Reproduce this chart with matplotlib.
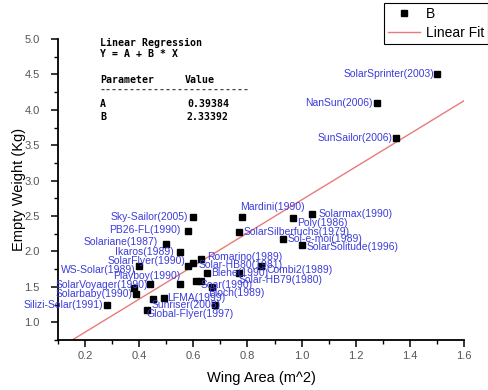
import matplotlib
matplotlib.use('Agg')
import matplotlib.pyplot as plt
from matplotlib.ticker import MultipleLocator
from matplotlib.lines import Line2D
import numpy as np

plt.rcParams['font.family'] = ['Liberation Sans', 'DejaVu Sans']

# wing area (m^2), empty weight (kg) and aircraft names
names = ['Sky-Sailor(2005)', 'PB26-FL(1990)', 'Solariane(1987)', 'Ikaros(1989)',
         'Romarino(1989)', 'Solar-HB80(1981)', 'SolarFlyer(1990)', 'WS-Solar(1989)',
         'Blehe(1990)', 'Solar-HB79(1980)', 'Combi2(1989)', 'Bloch(1989)', '',
         'Playboy(1990)', 'SolarVoyager(1990)', '', 'Solarbaby(1990)', 'LFMA(1999)', '',
         'Soar(1990)', 'Sunriser(2008)', 'Global-Flyer(1997)', 'Silizi-Solar(1991)',
         'Mardini(1990)', 'Poly(1986)', 'Solarmax(1990)', 'SolarSilberfuchs(1979)',
         'Sol-e-moi(1989)', 'SolarSolitude(1996)', 'SolarSprinter(2003)',
         'NanSun(2006)', 'SunSailor(2006)']
wing_area = [0.60, 0.58, 0.50, 0.55, 0.63, 0.60, 0.58, 0.40, 0.65, 0.77, 0.85, 0.63,
             0.61, 0.55, 0.44, 0.38, 0.39, 0.49, 0.45, 0.67, 0.68, 0.43, 0.28, 0.78,
             0.97, 1.04, 0.77, 0.93, 1.00, 1.50, 1.28, 1.35]
weight = [2.49, 2.29, 2.10, 1.99, 1.90, 1.84, 1.79, 1.79, 1.70, 1.69, 1.79, 1.59,
          1.59, 1.54, 1.54, 1.49, 1.40, 1.35, 1.33, 1.50, 1.25, 1.18, 1.25, 2.49,
          2.47, 2.53, 2.28, 2.18, 2.09, 4.50, 4.10, 3.60]

fit_a = 0.39384
fit_b = 2.33392

# label placement: (horizontal alignment, dx px, dy px up)
label_pos = [('right', -5, 0), ('right', -7, 1), ('right', -8, 2), ('right', -6, 0),
             ('left', 6, 2), ('left', 5, -2), ('right', -2, 5), ('right', -3, -4),
             ('left', 4, 0), ('left', -1, -7), ('left', 6, -4), ('left', 7, -12), None,
             ('right', 1, 8), ('right', -2, -1), None, ('right', -4, 0), ('left', 4, 0), None,
             ('left', -12, 2), ('left', -63, 0), ('left', -1, -4), ('right', -4, 0),
             ('left', -2, 10), ('left', 4, -5), ('left', 6, 0), ('left', 4, 0),
             ('left', 5, 0), ('left', 5, -2), ('right', -3, 0), ('right', -5, 0),
             ('right', -4, 0)]

W, H = 489, 390
fig = plt.figure(figsize=(W / 100, H / 100), dpi=100)
ax = fig.add_axes([58 / W, 1 - 340 / H, (464 - 58) / W, (340 - 39) / H])

ax.plot(wing_area, weight, 's', color='black', ms=4.5, zorder=3)
xs = np.array([0.1, 1.6])
ax.plot(xs, fit_a + fit_b * xs, color='#e87a7a', lw=1.0, zorder=2)

for name, x, y, pos in zip(names, wing_area, weight, label_pos):
    if not name:
        continue
    ha, dx, dy = pos
    ax.annotate(name, (x, y), xytext=(dx, dy), textcoords='offset pixels',
                ha=ha, va='center', fontsize=7.5, color='#3c3cdc', zorder=4)

ax.set_xlim(0.1, 1.6)
ax.set_ylim(0.75, 5.0)
ax.xaxis.set_minor_locator(MultipleLocator(0.1))
ax.yaxis.set_minor_locator(MultipleLocator(0.25))
ax.set_xticks(np.arange(0.2, 1.61, 0.2))
ax.set_yticks(np.arange(1.0, 5.01, 0.5))
ax.tick_params(which='major', direction='out', length=5, width=1.1,
               labelsize=8, labelcolor='#555555')
ax.tick_params(axis='x', which='major', pad=3)
ax.tick_params(axis='y', which='major', pad=8)
ax.tick_params(which='minor', direction='out', length=3, width=1.0)
for s in ['top', 'right']:
    ax.spines[s].set_visible(False)
for s in ['left', 'bottom']:
    ax.spines[s].set_linewidth(1.3)

ax.set_xlabel('Wing Area (m^2)', fontsize=10.5, labelpad=7)
ax.set_ylabel('Empty Weight (Kg)', fontsize=10.5, labelpad=-1)

# regression results box
mono = dict(family='DejaVu Sans Mono', fontsize=7.1, fontweight='bold', va='center')
fig.text(100 / W, 1 - 43 / H, 'Linear Regression', **mono)
fig.text(100 / W, 1 - 54 / H, 'Y = A + B * X', **mono)
fig.text(100 / W, 1 - 80 / H, 'Parameter', **mono)
fig.text(185 / W, 1 - 80 / H, 'Value', **mono)
fig.text(100 / W, 1 - 90 / H, '-' * 25, color='#444444', **mono)
fig.text(100 / W, 1 - 104 / H, 'A', **mono)
fig.text(187 / W, 1 - 104 / H, '%.5f' % fit_a, **mono)
fig.text(100 / W, 1 - 117 / H, 'B', **mono)
fig.text(187 / W, 1 - 117 / H, '%.5f' % fit_b, **mono)

handles = [Line2D([], [], marker='s', ls='none', color='black', ms=4.5),
           Line2D([], [], color='#e87a7a', lw=1.0)]
leg = fig.legend(handles, ['B', 'Linear Fit'], loc='upper left',
                 bbox_to_anchor=(384 / W, 1 - 3 / H), borderaxespad=0, fontsize=10,
                 fancybox=False, edgecolor='black', framealpha=1,
                 handlelength=2.3, handletextpad=0.4, borderpad=0.3,
                 labelspacing=0.35)
leg.get_frame().set_linewidth(0.8)

fig.savefig('out.png', dpi=100)
